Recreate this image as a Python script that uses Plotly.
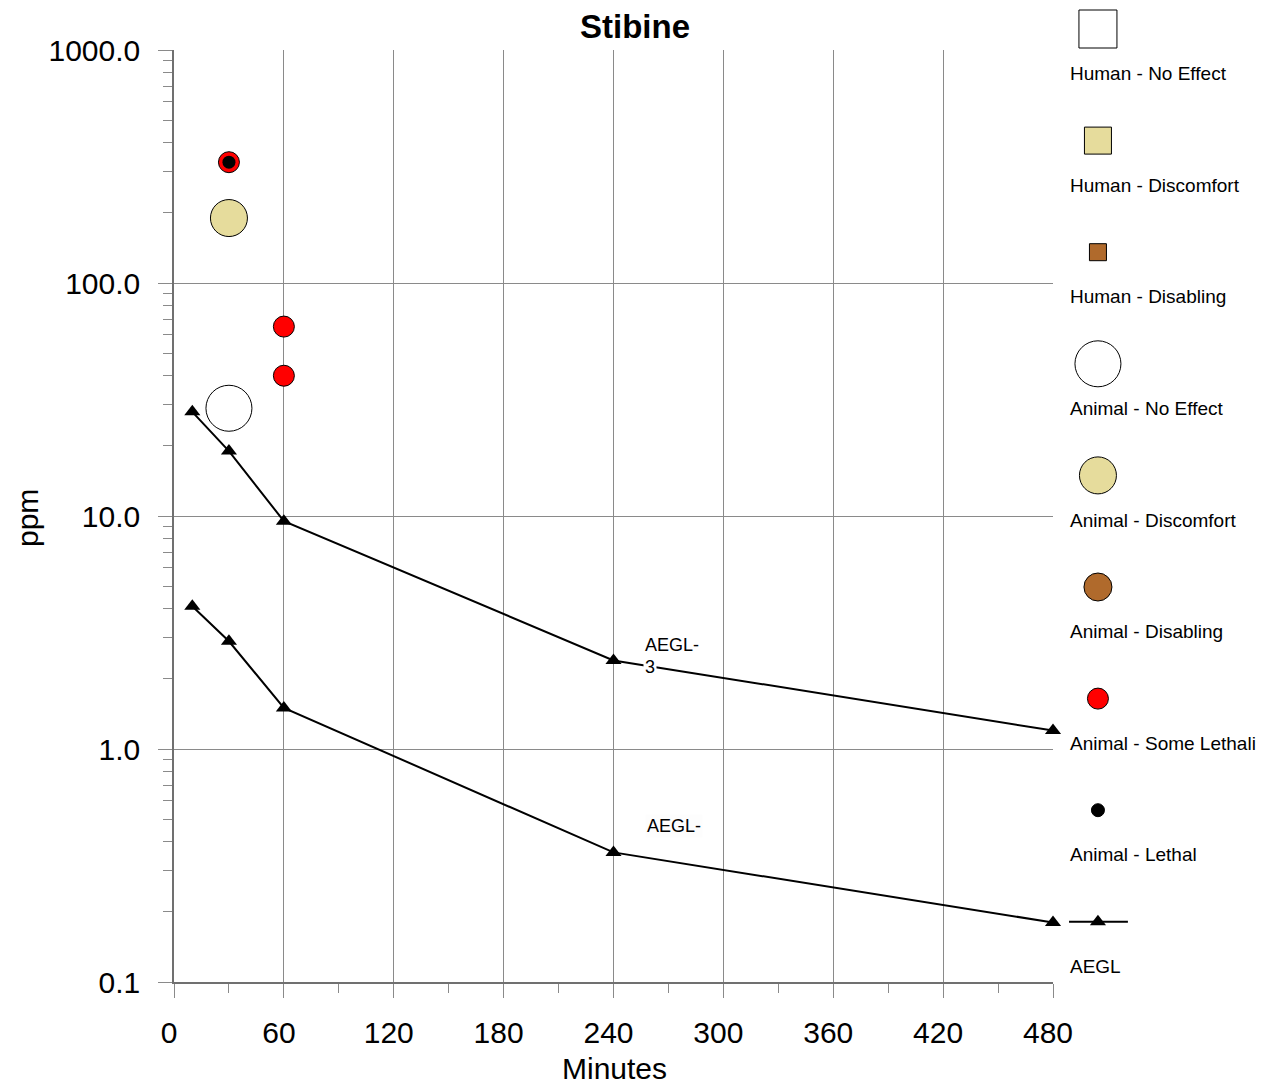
import numpy as np
import plotly.graph_objects as go

FONT = "Liberation Sans, Arial, sans-serif"

# ---------------- data ----------------
aegl_minutes = [10, 30, 60, 240, 480]
aegl3_ppm = [28, 19, 9.5, 2.4, 1.2]
aegl2_ppm = [4.1, 2.9, 1.5, 0.36, 0.18]

animal_no_effect_min = [30]
animal_no_effect_ppm = [29]
animal_discomfort_min = [30]
animal_discomfort_ppm = [190]
animal_some_lethal_min = [30, 60, 60]
animal_some_lethal_ppm = [330, 65, 40]
animal_lethal_min = [30]
animal_lethal_ppm = [330]

y_tick_vals = [0.1, 1, 10, 100, 1000]
y_tick_text = ["0.1", "1.0", "10.0", "100.0", "1000.0"]
x_tick_vals = [0, 60, 120, 180, 240, 300, 360, 420, 480]

legend_labels = ["Human - No Effect", "Human - Discomfort", "Human - Disabling",
                 "Animal - No Effect", "Animal - Discomfort", "Animal - Disabling",
                 "Animal - Some Lethali", "Animal - Lethal", "AEGL"]

# ---------------- styles / layout (figure px; page body adds 8px offset) ----------------
W, H = 1256, 1077
L, B = 166, 103
PW = W - L            # paper width
PH = H - B            # paper height (t = 0)
PLOT_W, PLOT_H = 879, 932
LEG_Y0, LEG_STEP = 21, 111.6

TAN = "#E6DC9C"
BROWN = "#B06A2C"
RED = "#FF0000"
legend_styles = [
    dict(symbol="square", size=38, color="white"),
    dict(symbol="square", size=27, color=TAN),
    dict(symbol="square", size=17, color=BROWN),
    dict(symbol="circle", size=46, color="white"),
    dict(symbol="circle", size=37, color=TAN),
    dict(symbol="circle", size=28, color=BROWN),
    dict(symbol="circle", size=21, color=RED),
    dict(symbol="circle", size=13, color="black"),
]

fig = go.Figure()

# AEGL lines
for ys in (aegl3_ppm, aegl2_ppm):
    fig.add_trace(go.Scatter(
        x=aegl_minutes, y=ys, mode="lines+markers",
        line=dict(color="black", width=2),
        marker=dict(symbol="triangle-up", size=14, color="black"),
        cliponaxis=False, showlegend=False))

# Animal data
fig.add_trace(go.Scatter(x=animal_no_effect_min, y=animal_no_effect_ppm, mode="markers",
                         marker=dict(symbol="circle", size=46, color="white",
                                     line=dict(color="black", width=1)),
                         cliponaxis=False, showlegend=False))
fig.add_trace(go.Scatter(x=animal_discomfort_min, y=animal_discomfort_ppm, mode="markers",
                         marker=dict(symbol="circle", size=37, color=TAN,
                                     line=dict(color="black", width=1)),
                         cliponaxis=False, showlegend=False))
fig.add_trace(go.Scatter(x=animal_some_lethal_min, y=animal_some_lethal_ppm, mode="markers",
                         marker=dict(symbol="circle", size=21, color=RED,
                                     line=dict(color="black", width=1)),
                         cliponaxis=False, showlegend=False))
fig.add_trace(go.Scatter(x=animal_lethal_min, y=animal_lethal_ppm, mode="markers",
                         marker=dict(symbol="circle", size=13, color="black"),
                         cliponaxis=False, showlegend=False))

# ---------------- custom legend on a hidden second axis ----------------
legend_x_marker = 0.213
for i, st in enumerate(legend_styles):
    fig.add_trace(go.Scatter(
        x=[legend_x_marker], y=[i], xaxis="x2", yaxis="y2", mode="markers",
        marker=dict(symbol=st["symbol"], size=st["size"], color=st["color"],
                    line=dict(color="black", width=1)),
        cliponaxis=False, showlegend=False, hoverinfo="skip"))
n = len(legend_labels) - 1
fig.add_trace(go.Scatter(x=[0.076, 0.355], y=[n, n], xaxis="x2", yaxis="y2", mode="lines",
                         line=dict(color="black", width=2), cliponaxis=False,
                         showlegend=False, hoverinfo="skip"))
fig.add_trace(go.Scatter(x=[legend_x_marker], y=[n], xaxis="x2", yaxis="y2", mode="markers",
                         marker=dict(symbol="triangle-up", size=14, color="black"),
                         cliponaxis=False, showlegend=False, hoverinfo="skip"))

annotations = []
for i, lab in enumerate(legend_labels):
    annotations.append(dict(x=0.07, y=i + 0.4, xref="x2", yref="y2", text=lab,
                            showarrow=False, xanchor="left", yanchor="middle",
                            font=dict(family=FONT, size=19, color="black")))

# AEGL labels
annotations.append(dict(x=256, y=np.log10(2.79), xref="x", yref="y", text="AEGL-",
                        showarrow=False, xanchor="left", yanchor="middle",
                        font=dict(family=FONT, size=18, color="black")))
annotations.append(dict(x=256, y=np.log10(2.25), xref="x", yref="y", text="3",
                        showarrow=False, xanchor="left", yanchor="middle",
                        bgcolor="white", borderpad=1,
                        font=dict(family=FONT, size=18, color="black")))
annotations.append(dict(x=257, y=np.log10(0.468), xref="x", yref="y", text="AEGL-",
                        showarrow=False, xanchor="left", yanchor="middle",
                        bgcolor="#fdfdfd", borderpad=1,
                        font=dict(family=FONT, size=18, color="black")))

# axis titles
annotations.append(dict(x=(606 - L) / PW, y=(PH - 1060) / PH, xref="paper", yref="paper",
                        text="Minutes", showarrow=False, xanchor="center", yanchor="middle",
                        font=dict(family=FONT, size=30, color="black")))
annotations.append(dict(x=(19 - L) / PW, y=(PH - 510) / PH, xref="paper", yref="paper",
                        text="ppm", textangle=-90, showarrow=False, xanchor="center",
                        yanchor="middle", font=dict(family=FONT, size=30, color="black")))

minor_y = [m * 10.0 ** d for d in range(-1, 3) for m in range(2, 10)]

GRID = "#8a8a8a"
fig.update_layout(
    width=W, height=H,
    margin=dict(l=L, r=0, t=0, b=B, autoexpand=False),
    paper_bgcolor="white", plot_bgcolor="white",
    title=dict(text="<b>Stibine</b>", x=627 / W, xref="container", y=1 - 18 / H,
               yref="container", xanchor="center", yanchor="middle", automargin=False,
               font=dict(family=FONT, size=33, color="black")),
    font=dict(family=FONT, color="black"),
    xaxis=dict(domain=[0, PLOT_W / PW], range=[0, 480], tickvals=x_tick_vals,
               automargin=False,
               showgrid=True, gridcolor=GRID, gridwidth=1, zeroline=False,
               showline=True, linecolor="#707070", linewidth=1.5,
               ticks="outside", ticklen=14, tickcolor=GRID, tickwidth=1,
               minor=dict(dtick=30, tick0=0, ticks="outside", ticklen=9,
                          tickcolor=GRID, showgrid=False),
               ticklabelshift=-5, ticklabelstandoff=9,
               tickfont=dict(family=FONT, size=30, color="black")),
    yaxis=dict(domain=[0, PLOT_H / PH], type="log", range=[-1, 3],
               tickvals=y_tick_vals, ticktext=y_tick_text, automargin=False,
               showgrid=True, gridcolor=GRID, gridwidth=1, zeroline=False,
               showline=True, linecolor="#707070", linewidth=1.5,
               ticks="outside", ticklen=14, tickcolor=GRID, tickwidth=1,
               minor=dict(tickvals=minor_y, ticks="outside", ticklen=9,
                          tickcolor=GRID, showgrid=False),
               ticklabelstandoff=12,
               tickfont=dict(family=FONT, size=30, color="black")),
    xaxis2=dict(domain=[PLOT_W / PW, 1], range=[0, 1], visible=False, anchor="y2",
                fixedrange=True, automargin=False),
    yaxis2=dict(domain=[0, 1], range=[(PH - LEG_Y0) / LEG_STEP, -LEG_Y0 / LEG_STEP],
                visible=False, anchor="x2", fixedrange=True, automargin=False),
    annotations=annotations,
    showlegend=False,
)

fig.write_html("out.html")
